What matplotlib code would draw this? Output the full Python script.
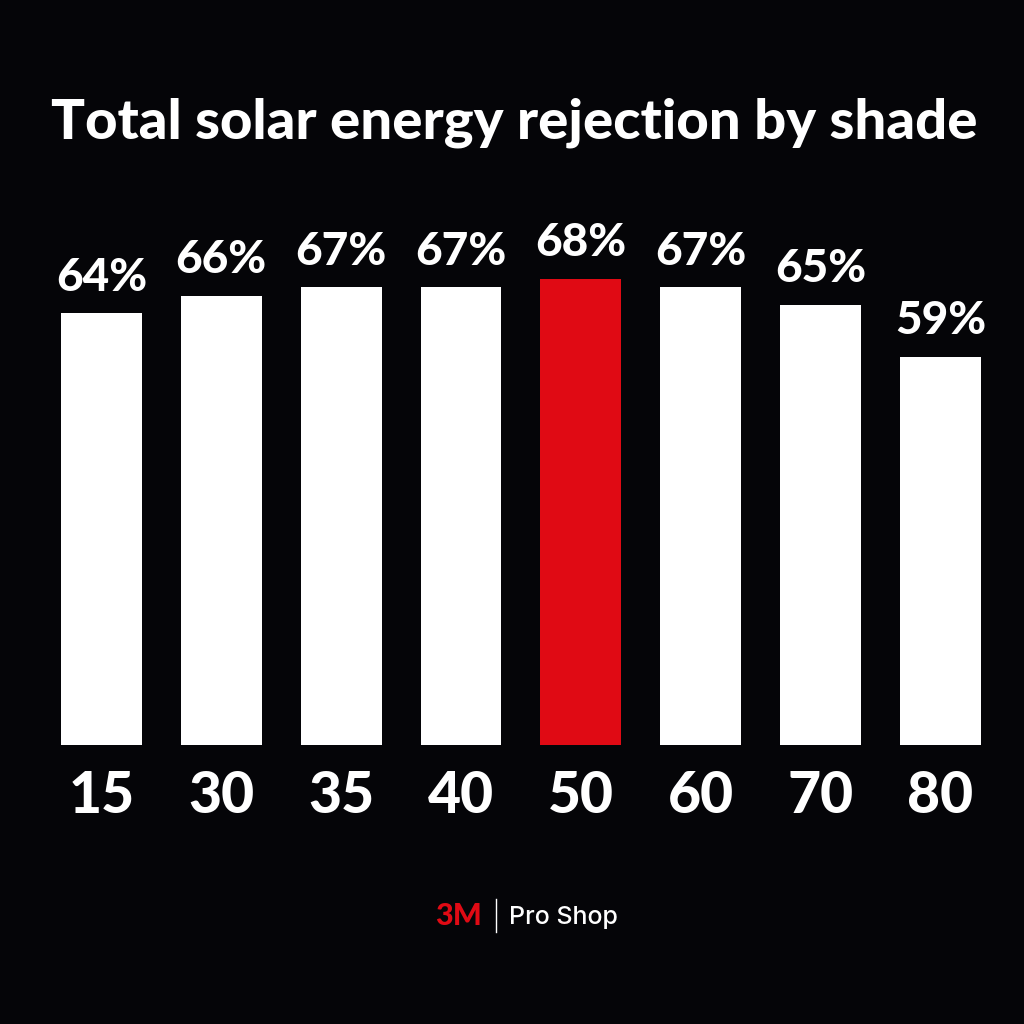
import matplotlib
matplotlib.use("Agg")
import matplotlib.pyplot as plt

# Data
shades = ["15", "30", "35", "40", "50", "60", "70", "80"]
rejection = [64, 66, 67, 67, 68, 67, 65, 59]
highlight = "50"

BG = "#050508"
RED = "#E00A14"
WHITE = "#FFFFFF"
FONT = "Lato"

fig = plt.figure(figsize=(10.24, 10.24), dpi=100, facecolor=BG)
ax = fig.add_axes([0.0405, 0.2725, 0.9365, 0.662])
ax.set_facecolor(BG)

colors = [RED if s == highlight else WHITE for s in shades]
x = range(len(shades))
bars = ax.bar(x, rejection, width=0.675, color=colors)

ax.set_xlim(-0.5, len(shades) - 0.5)
ax.set_ylim(14.35, 92.35)  # baseline is not at zero in the original

# value labels above the bars
for b, v in zip(bars, rejection):
    ax.annotate(f"{v}%", (b.get_x() + b.get_width() / 2, b.get_height()),
                xytext=(0, 10.5), textcoords="offset points",
                ha="center", va="bottom", color=WHITE,
                fontsize=33, fontweight="black", family=FONT)

ax.set_xticks(list(x))
ax.set_xticklabels(shades, fontsize=41, fontweight="black", family=FONT, color=WHITE)
ax.tick_params(axis="x", length=0, pad=18)
ax.set_yticks([])
for s in ax.spines.values():
    s.set_visible(False)

fig.text(0.502, 0.865, "Total solar energy rejection by shade", ha="center",
         va="baseline", color=WHITE, fontsize=40.5, fontweight="black", family=FONT)

# footer logo
fig.text(0.4705, 0.0965, "3M", ha="right", va="baseline", color=RED,
         fontsize=22, fontweight="black", family=FONT)
fig.lines.append(plt.Line2D([0.4845, 0.4845], [0.09, 0.122],
                            transform=fig.transFigure, color=WHITE, lw=1))
fig.text(0.497, 0.0975, "Pro Shop", ha="left", va="baseline", color=WHITE,
         fontsize=18, family="Inter", fontweight="medium")

fig.savefig("out.png", dpi=100, facecolor=BG)
